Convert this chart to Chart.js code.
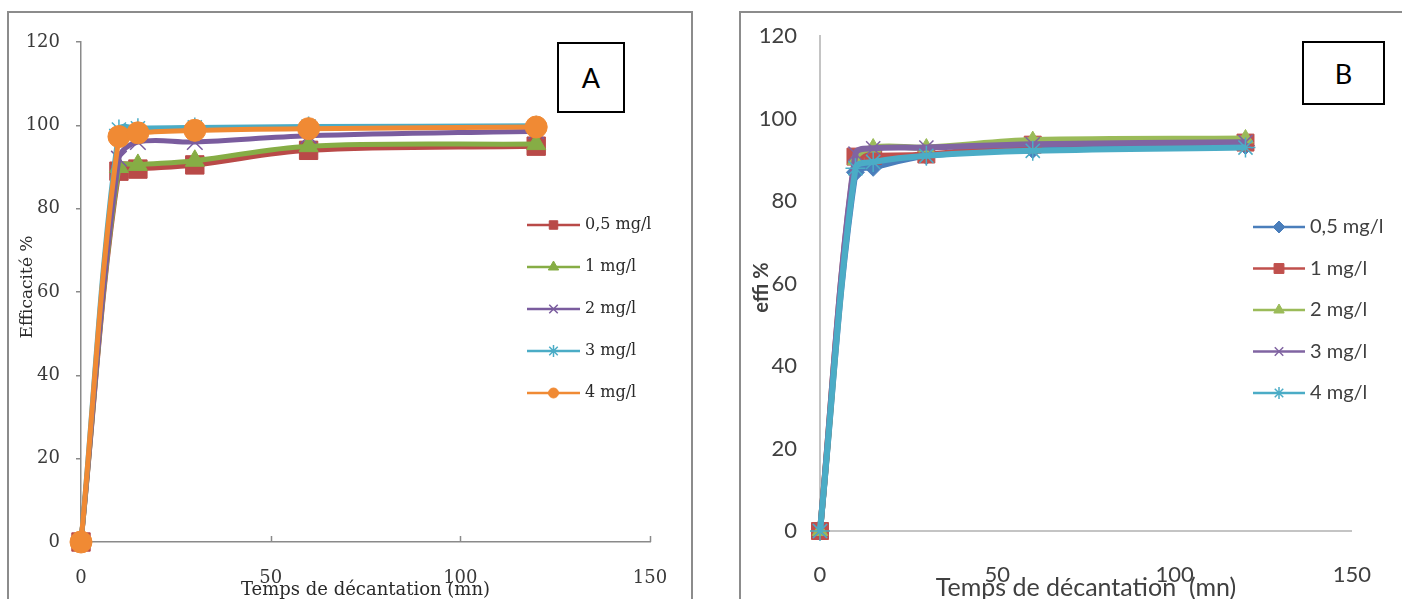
<!DOCTYPE html>
<html lang="fr">
<head>
<meta charset="utf-8">
<title>Efficacité en fonction du temps de décantation</title>
<script src="https://cdn.jsdelivr.net/npm/chart.js@4.4.0/dist/chart.umd.min.js"></script>
<style>
  html, body { margin: 0; padding: 0; background: #fff; overflow: hidden; }
  body { width: 1402px; height: 599px; position: relative; }
  .cadre { position: absolute; border: 2px solid #8c8c8c; box-sizing: border-box; }
  #cadreA { left: 7px; top: 11px; width: 686px; height: 620px; }
  #cadreB { left: 739px; top: 11px; width: 700px; height: 620px; }
  canvas { position: absolute; top: 0; }
  #grapheA { left: 0; }
  #grapheB { left: 700px; }
  .lettre {
    position: absolute; border: 2px solid #000; box-sizing: border-box; background: #fff;
    font-family: Lato, "Liberation Sans", sans-serif; font-size: 27px; color: #000;
    display: flex; align-items: center; justify-content: center;
  }
  #lettreA { left: 557px; top: 42px; width: 68px; height: 71px; }
  #lettreB { left: 1302px; top: 41px; width: 83px; height: 64px; }
</style>
</head>
<body>
<div class="cadre" id="cadreA"></div>
<div class="cadre" id="cadreB"></div>
<canvas id="grapheA" width="700" height="599"></canvas>
<canvas id="grapheB" width="702" height="599"></canvas>
<div class="lettre" id="lettreA">A</div>
<div class="lettre" id="lettreB">B</div>

<script>
// temps de décantation (mn)
const temps = [0, 10, 15, 30, 60, 120];
const doses = ['0,5 mg/l', '1 mg/l', '2 mg/l', '3 mg/l', '4 mg/l'];

// série A : efficacité %
const effA_05 = [0, 89, 89.5, 90.5, 94, 95];
const effA_1 = [0, 90, 90.5, 91.5, 95, 95.5];
const effA_2 = [0, 92, 96, 96, 97.5, 98.6];
const effA_3 = [0, 99, 99.3, 99.5, 99.7, 99.9];
const effA_4 = [0, 97.3, 98.2, 98.8, 99.2, 99.6];

// série B : effi %
const effB_05 = [0, 87, 88.2, 91, 92.5, 93.5];
const effB_1 = [0, 90.8, 91, 91.3, 93.7, 94.2];
const effB_2 = [0, 90, 93, 93, 94.8, 95.2];
const effB_3 = [0, 91.5, 92.8, 93, 93.8, 94.3];
const effB_4 = [0, 88, 89.5, 91, 92.2, 93];

const ticksY = [0, 20, 40, 60, 80, 100, 120];
const ticksX = [0, 50, 100, 150];

const couleursA = ['#B94A48', '#86AD45', '#7A5C9E', '#4BACC6', '#F08A34'];
const marqueursA = [
  { style: 'rect', r: 13, rl: 6 },
  { style: 'triangle', r: 11, rl: 6 },
  { style: 'crossRot', r: 11, rl: 6 },
  { style: 'star', r: 10, rl: 6 },
  { style: 'circle', r: 11, rl: 5 }
];
const couleursB = ['#4A7EBB', '#C0504D', '#9BBB59', '#8064A2', '#4BACC6'];
const marqueursB = [
  { style: 'rectRot', r: 9, rl: 6 },
  { style: 'rect', r: 12, rl: 7 },
  { style: 'triangle', r: 9, rl: 6 },
  { style: 'crossRot', r: 10, rl: 6 },
  { style: 'star', r: 10, rl: 6 }
];

function series(valeurs, couleurs, marqueurs, epaisseur) {
  return valeurs.map((v, i) => ({
    label: doses[i],
    data: temps.map((t, k) => ({ x: t, y: v[k] })),
    borderColor: couleurs[i],
    backgroundColor: couleurs[i],
    borderWidth: epaisseur,
    pointStyle: marqueurs[i].style,
    pointRadius: marqueurs[i].r,
    pointBorderWidth: (marqueurs[i].style === 'crossRot' || marqueurs[i].style === 'star') ? 1.5 : 1,
    tension: 0.35,
    clip: false,
    order: valeurs.length - 1 - i   // la dernière série passe au-dessus
  }));
}

// titres d'axes, légende et petites graduations dessinés à la main
const decor = {
  id: 'decor',
  afterDraw(chart, args, o) {
    const ctx = chart.ctx;
    const area = chart.chartArea;
    ctx.save();

    if (o.ticksIn) {
      const sx = chart.scales.x;
      ctx.strokeStyle = o.axisColor;
      ctx.lineWidth = 1.5;
      ticksX.slice(1).forEach(v => {
        const px = Math.round(sx.getPixelForValue(v)) + 0.5;
        ctx.beginPath();
        ctx.moveTo(px, area.bottom);
        ctx.lineTo(px, area.bottom - 6);
        ctx.stroke();
      });
    }

    ctx.fillStyle = o.textColor;
    ctx.textAlign = 'center';
    ctx.textBaseline = 'middle';
    ctx.font = o.xTitleFont;
    ctx.fillText(o.xTitle, (area.left + area.right) / 2 + o.xTitleDx, area.bottom + o.xTitleDy);

    ctx.save();
    ctx.translate(o.yTitleX, (area.top + area.bottom) / 2 + o.yTitleDy);
    ctx.rotate(-Math.PI / 2);
    ctx.font = o.yTitleFont;
    ctx.fillText(o.yTitle, 0, 0);
    ctx.restore();

    // légende
    chart.data.datasets.forEach((ds, i) => {
      const y = o.legY + i * o.legStep;
      ctx.strokeStyle = ds.borderColor;
      ctx.lineWidth = 2.5;
      ctx.beginPath();
      ctx.moveTo(o.legX, y);
      ctx.lineTo(o.legX + o.legLen, y);
      ctx.stroke();
      ctx.fillStyle = ds.backgroundColor;
      ctx.lineWidth = ds.pointBorderWidth;
      Chart.helpers.drawPoint(ctx, {
        pointStyle: ds.pointStyle, radius: o.marq[i].rl, rotation: 0, borderWidth: ds.pointBorderWidth
      }, o.legX + o.legLen / 2, y);
      ctx.fillStyle = o.textColor;
      ctx.textAlign = 'left';
      ctx.font = o.legFont;
      ctx.fillText(ds.label, o.legX + o.legLen + 5, y);
    });
    ctx.restore();
  }
};

function options(cfg) {
  return {
    responsive: false,
    animation: false,
    layout: { padding: { left: 0, top: cfg.top, right: cfg.right, bottom: 0 } },
    plugins: {
      legend: { display: false },
      tooltip: { enabled: false },
      decor: cfg.decor
    },
    scales: {
      x: {
        type: 'linear', min: 0, max: 150,
        afterFit: s => { s.height = cfg.xHeight; },
        afterBuildTicks: s => { s.ticks = ticksX.map(v => ({ value: v })); },
        grid: { display: false, drawTicks: false },
        border: { display: true, color: cfg.axisColor, width: cfg.axisWidth },
        ticks: { padding: cfg.xPad, color: cfg.tickColor, font: cfg.tickFont, maxRotation: 0 }
      },
      y: {
        min: 0, max: 120,
        afterFit: s => { s.width = cfg.yWidth; },
        afterBuildTicks: s => { s.ticks = ticksY.map(v => ({ value: v })); },
        grid: cfg.yTicksOut
          ? { display: true, drawOnChartArea: false, drawTicks: true, tickLength: 5, color: cfg.axisColor, lineWidth: 1.5 }
          : { display: false, drawTicks: false },
        border: { display: true, color: cfg.axisColor, width: cfg.axisWidth },
        ticks: { padding: cfg.yPad, color: cfg.tickColor, font: cfg.tickFont }
      }
    }
  };
}

const serif = '"DejaVu Serif", "Liberation Serif", serif';
const sans = 'Lato, "Liberation Sans", sans-serif';

new Chart(document.getElementById('grapheA'), {
  type: 'line',
  data: { datasets: series([effA_05, effA_1, effA_2, effA_3, effA_4], couleursA, marqueursA, 5) },
  options: options({
    top: 42, right: 50, xHeight: 57, yWidth: 81,
    xPad: 26, yPad: 16,
    axisColor: '#8a8a8a', axisWidth: 1.5, yTicksOut: true,
    tickColor: '#3a3a3a', tickFont: { family: serif, size: 18 },
    decor: {
      ticksIn: true, axisColor: '#8a8a8a', textColor: '#2a2a2a',
      xTitle: 'Temps de décantation (mn)', xTitleFont: '18px ' + serif, xTitleDx: 0, xTitleDy: 48,
      yTitle: 'Efficacité %', yTitleFont: '17px ' + serif, yTitleX: 28, yTitleDy: -5,
      legX: 527, legY: 225, legStep: 42, legLen: 53, legFont: '16px ' + serif, marq: marqueursA
    }
  }),
  plugins: [decor]
});

new Chart(document.getElementById('grapheB'), {
  type: 'line',
  data: { datasets: series([effB_05, effB_1, effB_2, effB_3, effB_4], couleursB, marqueursB, 6) },
  options: options({
    top: 33, right: 26, xHeight: 68, yWidth: 120,
    xPad: 31, yPad: 23,
    axisColor: '#c4c4c4', axisWidth: 2, yTicksOut: false,
    tickColor: '#404040', tickFont: { family: sans, size: 22 },
    decor: {
      ticksIn: false, axisColor: '#c4c4c4', textColor: '#404040',
      xTitle: 'Temps de décantation  (mn)', xTitleFont: '25px ' + sans, xTitleDx: 0, xTitleDy: 57,
      yTitle: 'effi %', yTitleFont: 'bold 20px ' + sans, yTitleX: 62, yTitleDy: 4,
      legX: 553, legY: 227, legStep: 41.5, legLen: 52, legFont: '20px ' + sans, marq: marqueursB
    }
  }),
  plugins: [decor]
});
</script>
</body>
</html>
